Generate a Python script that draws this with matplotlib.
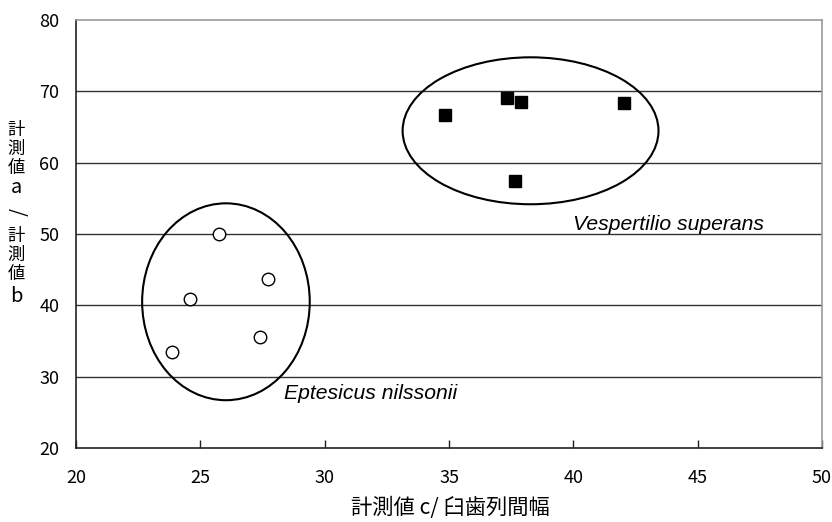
import matplotlib
matplotlib.use("Agg")
import matplotlib.pyplot as plt
from matplotlib.patches import Ellipse

# Data
ep_x = [25.75, 27.71, 24.60, 27.41, 23.87]
ep_y = [50.0, 43.7, 40.9, 35.6, 33.4]
vs_x = [34.85, 37.34, 37.88, 42.03, 37.66]
vs_y = [66.7, 69.1, 68.5, 68.4, 57.5]
x_ticks = [20, 25, 30, 35, 40, 45, 50]
y_ticks = [20, 30, 40, 50, 60, 70, 80]
ep_label = "Eptesicus nilssonii"
vs_label = "Vespertilio superans"
x_label = "計測値 c/ 臼歯列間幅"
y_label_chars = ["計", "測", "値", "a", "/", "計", "測", "値", "b"]
# ellipses (center x, center y, width, height) in data units
ep_ellipse = (26.03, 40.5, 6.74, 27.6)
vs_ellipse = (38.28, 64.47, 10.29, 20.6)

jp = ["Noto Sans CJK JP", "DejaVu Sans"]
plt.rcParams["font.family"] = jp

W, H = 832, 522
fig = plt.figure(figsize=(W / 100, H / 100), dpi=100)
ax = fig.add_axes([76 / W, 1 - 448 / H, (822 - 76) / W, (448 - 20) / H])

ax.set_xlim(20, 50)
ax.set_ylim(20, 80)
ax.set_xticks(x_ticks)
ax.set_yticks(y_ticks)
ax.set_xticklabels([str(t) for t in x_ticks])
ax.set_yticklabels([str(t) for t in y_ticks])

for y in y_ticks[1:-1]:
    ax.axhline(y, color="#333333", lw=1.0, zorder=1)

ax.spines["left"].set_color("#222222")
ax.spines["bottom"].set_color("#222222")
ax.spines["top"].set_color("#999999")
ax.spines["right"].set_color("#999999")
for s in ax.spines.values():
    s.set_linewidth(1.2)

ax.tick_params(axis="x", direction="in", length=6, width=1, color="#222222",
               labelsize=13, pad=15)
ax.tick_params(axis="y", length=0, labelsize=13, pad=12)

for (cx, cy, w, h) in [ep_ellipse, vs_ellipse]:
    ax.add_patch(Ellipse((cx, cy), w, h, fill=False, edgecolor="black",
                         lw=1.5, zorder=2))

ax.plot(ep_x, ep_y, linestyle="none", marker="o", markersize=9,
        markerfacecolor="white", markeredgecolor="black", markeredgewidth=1.0,
        zorder=3)
ax.plot(vs_x, vs_y, linestyle="none", marker="s", markersize=9,
        markerfacecolor="black", markeredgecolor="black", zorder=3)

ax.text(40.0, 51.3, vs_label, fontsize=15.2, style="italic",
        family=["Liberation Sans", "DejaVu Sans"], va="center", ha="left")
ax.text(28.35, 27.7, ep_label, fontsize=15.2, style="italic",
        family=["Liberation Sans", "DejaVu Sans"], va="center", ha="left")

fig.text(450 / W, 1 - 508 / H, x_label, fontsize=15.3, ha="center", va="center")

ys = [130, 149, 168, 188, 212, 236, 255, 274, 297]
for ch, yp in zip(y_label_chars, ys):
    rot = 270 if ch == "/" else 0
    fs = 14.5 if ch in ("a", "b", "/") else 12.5
    fig.text(16 / W, 1 - yp / H, ch, fontsize=fs, ha="center", va="center",
             rotation=rot)

fig.savefig("out.png", dpi=100)
